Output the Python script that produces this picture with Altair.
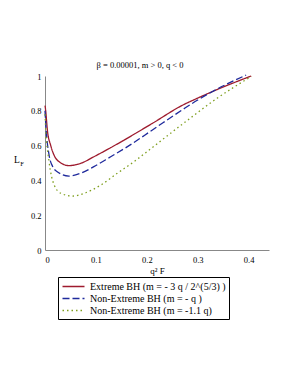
import altair as alt
import pandas as pd

# Series
red_x = [0.0, 0.001, 0.005, 0.011, 0.024, 0.047, 0.070, 0.096, 0.129, 0.162, 0.211, 0.272, 0.300, 0.338, 0.405]
red_y = [0.83, 0.81, 0.68, 0.603, 0.517, 0.485, 0.498, 0.536, 0.588, 0.643, 0.728, 0.835, 0.873, 0.922, 1.0]

blue_x = [0.0, 0.002, 0.008, 0.015, 0.024, 0.047, 0.070, 0.096, 0.129, 0.162, 0.211, 0.272, 0.300, 0.338, 0.395]
blue_y = [0.80, 0.70, 0.546, 0.48, 0.450, 0.425, 0.441, 0.479, 0.536, 0.594, 0.690, 0.810, 0.862, 0.925, 1.005]

green_x = [0.0, 0.001, 0.008, 0.018, 0.031, 0.054, 0.077, 0.110, 0.142, 0.175, 0.209, 0.272, 0.338, 0.405]
green_y = [0.78, 0.718, 0.508, 0.374, 0.326, 0.310, 0.326, 0.374, 0.441, 0.508, 0.585, 0.728, 0.872, 0.997]

labels = ["Extreme BH (m = - 3 q / 2^(5/3) )",
          "Non-Extreme BH (m = - q )",
          "Non-Extreme BH (m = -1.1 q)"]
colors = ["#9e1b2e", "#1f2a9c", "#7f9f1f"]
dashes = [[1, 0], [7, 3], [1.5, 3]]

x_ticks = [0, 0.1, 0.2, 0.3, 0.4]
y_ticks = [0, 0.2, 0.4, 0.6, 0.8, 1]

rows = []
for lab, xs, ys in zip(labels, [red_x, blue_x, green_x], [red_y, blue_y, green_y]):
    for i, (a, b) in enumerate(zip(xs, ys)):
        rows.append({"series": lab, "x": a, "y": b, "order": i})
df = pd.DataFrame(rows)

FONT = "'Liberation Serif', 'DejaVu Serif', serif"

legend_opts = dict(title=None, orient="none", legendX=13, legendY=201,
                   strokeColor="black", padding=3, rowPadding=0,
                   symbolType="M-2,0H2", symbolSize=121, symbolOffset=6,
                   symbolStrokeWidth=1.5, labelFont=FONT,
                   labelFontSize=10, labelColor="black",
                   labelLimit=400, labelOffset=10)

lines = alt.Chart(df).mark_line(strokeWidth=1.3, interpolate="monotone").encode(
    x=alt.X("x:Q", scale=alt.Scale(domain=[0, 0.44], nice=False),
            axis=alt.Axis(values=x_ticks, format="~g", title="q² F", grid=False,
                          ticks=False, domainColor="#888888", labelColor="black",
                          labelFont=FONT, labelFontSize=8.5, labelPadding=5,
                          titleFont=FONT, titleFontSize=9, titleFontWeight="normal",
                          titleColor="black", titlePadding=3)),
    y=alt.Y("y:Q", scale=alt.Scale(domain=[0, 1], nice=False),
            axis=alt.Axis(values=y_ticks, format="~g", title=None, grid=False,
                          ticks=False, domainColor="#888888", labelColor="black",
                          labelFont=FONT, labelFontSize=8.5, labelPadding=4)),
    color=alt.Color("series:N", scale=alt.Scale(domain=labels, range=colors),
                    legend=alt.Legend(**legend_opts)),
    strokeDash=alt.StrokeDash("series:N", scale=alt.Scale(domain=labels, range=dashes),
                              legend=alt.Legend(**legend_opts)),
    order="order:Q",
)

ytitle_L = alt.Chart(pd.DataFrame({"t": ["L"]})).mark_text(
    font=FONT, fontSize=9.5, color="black", align="center", baseline="alphabetic"
).encode(text="t:N", x=alt.value(-28), y=alt.value(87))
ytitle_F = alt.Chart(pd.DataFrame({"t": ["F"]})).mark_text(
    font=FONT, fontSize=6.5, color="black", align="center", baseline="alphabetic"
).encode(text="t:N", x=alt.value(-23), y=alt.value(90))

chart = alt.layer(lines, ytitle_L, ytitle_F).properties(
    width=224, height=174,
    title=alt.TitleParams("β = 0.00001, m > 0, q < 0", font=FONT, fontSize=8.5,
                          fontWeight="normal", color="black", anchor="middle",
                          dx=-17, offset=3),
    autosize=alt.AutoSizeParams(type="none"),
    padding={"left": 37, "top": 68, "right": 14, "bottom": 110},
).configure_view(stroke=None)

chart.save("out.html", embed_options={"renderer": "svg", "actions": False})
